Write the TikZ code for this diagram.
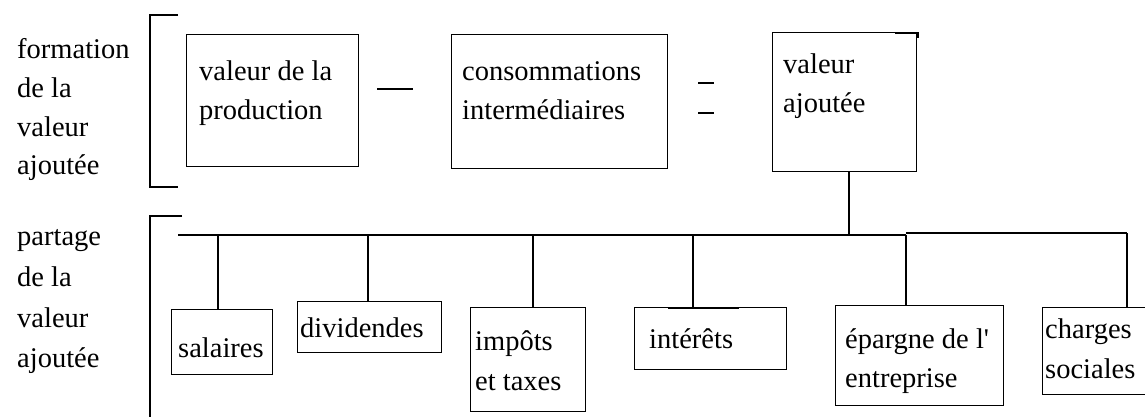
\documentclass[tikz,border=0pt]{standalone}
\usepackage{fontspec}
\defaultfontfeatures[\rmfamily]{}
\setmainfont{Liberation Serif}
\begin{document}
\begin{tikzpicture}[x=1pt,y=-1pt,
  box/.style={draw=black,line width=1.3pt,rectangle,inner sep=0pt,anchor=north west},
  txt/.style={anchor=base west,inner sep=0pt,font=\fontsize{28.5}{39}\selectfont},
  ln/.style={line width=1.3pt,black}]
\clip (0,0) rectangle (1145,416);
\fill[white] (0,0) rectangle (1145,416);
% left labels top
\node[txt] (f1) at (17,58) {formation};
\node[txt] (f2) at (17,97) {de la};
\node[txt] (f3) at (17,136) {valeur};
\node[txt] (f4) at (17,174) {ajoutée};
% left labels bottom
\node[txt] (p1) at (17,245) {partage};
\node[txt] (p2) at (17,286) {de la};
\node[txt] (p3) at (17,327) {valeur};
\node[txt] (p4) at (17,367) {ajoutée};
% brackets
\coordinate (br1a) at (178,15);
\coordinate (br1b) at (150,15);
\coordinate (br1c) at (150,187);
\coordinate (br1d) at (178,187);
\draw[ln] (br1a) -- (br1b) -- (br1c) -- (br1d);
\coordinate (br2a) at (182,216);
\coordinate (br2b) at (150,216);
\coordinate (br2c) at (150,420);
\draw[ln] (br2a) -- (br2b) -- (br2c);
% top boxes
\node[box,minimum width=172pt,minimum height=132pt] (vp) at (186,34) {};
\node[txt] at (199,80) {valeur de la};
\node[txt] at (199,119) {production};
\node[box,minimum width=216pt,minimum height=134pt] (ci) at (451,34) {};
\node[txt] at (462,80) {consommations};
\node[txt] at (462,119) {intermédiaires};
\node[box,minimum width=144pt,minimum height=139pt] (va) at (772,32) {};
\node[txt] at (783,73) {valeur};
\node[txt] at (783,112) {ajoutée};
\draw[line width=2.6pt] ([xshift=-22pt,yshift=-1pt]va.north east) -- ([yshift=-1pt]va.north east) -- ([yshift=-6pt]va.north east);
% operators
\coordinate (m1a) at (377,89); \coordinate (m1b) at (413,89);
\draw[ln] (m1a) -- (m1b);
\coordinate (e1a) at (698,83); \coordinate (e1b) at (714,83);
\coordinate (e2a) at (698,113); \coordinate (e2b) at (714,113);
\draw[ln] (e1a) -- (e1b);
\draw[ln] (e2a) -- (e2b);
% bus
\coordinate (busL) at (178,235);
\coordinate (busM) at (906,235);
\coordinate (busN) at (906,233);
\coordinate (busR) at (1127,233);
\draw[ln] (busL) -- (busM);
\draw[ln] (busN) -- (busR);
\draw[ln] (va.south -| 849,0) -- (849,235);
% bottom boxes
\node[box,minimum width=101pt,minimum height=65pt] (sal) at (171,309) {};
\node[txt] at (178,357) {salaires};
\node[box,minimum width=144pt,minimum height=51pt] (div) at (297,301) {};
\node[txt] at (300,337) {dividendes};
\node[box,minimum width=115pt,minimum height=104pt] (imp) at (470,307) {};
\node[txt] at (475,350) {impôts};
\node[txt] at (475,390) {et taxes};
\node[box,minimum width=152pt,minimum height=62pt] (int) at (634,307) {};
\node[txt] at (649,348) {intérêts};
\draw[line width=2.6pt] ([xshift=34pt,yshift=-1pt]int.north west) -- ([xshift=105pt,yshift=-1pt]int.north west);
\node[box,minimum width=168pt,minimum height=100pt] (epa) at (835,305) {};
\node[txt] at (845,348) {épargne de l'};
\node[txt] at (845,387) {entreprise};
\node[box,minimum width=140pt,minimum height=87pt] (cha) at (1042,307) {};
\node[txt] at (1045,338) {charges};
\node[txt] at (1045,378) {sociales};
% drops
\coordinate (d1) at (218,235);
\coordinate (d2) at (368,235);
\coordinate (d3) at (533,235);
\coordinate (d4) at (693,235);
\coordinate (d5) at (906,235);
\coordinate (d6) at (1127,233);
\draw[ln] (d1) -- (d1 |- sal.north);
\draw[ln] (d2) -- (d2 |- div.north);
\draw[ln] (d3) -- (d3 |- imp.north);
\draw[ln] (d4) -- (d4 |- int.north);
\draw[ln] (d5) -- (d5 |- epa.north);
\draw[ln] (d6) -- (d6 |- cha.north);
\end{tikzpicture}
\end{document}
